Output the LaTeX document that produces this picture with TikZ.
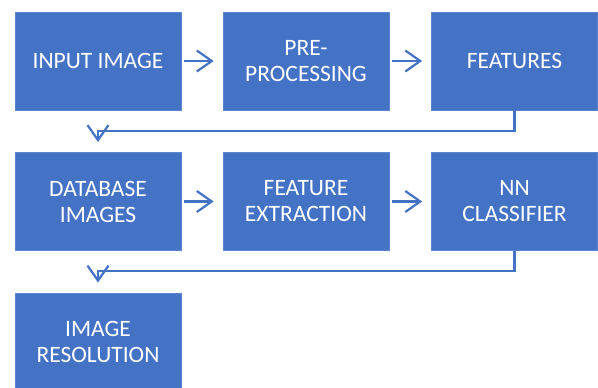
\documentclass[tikz,border=0pt]{standalone}
\usepackage{fontspec}
\setmainfont{Carlito}
\usetikzlibrary{arrows.meta}
\definecolor{boxblue}{HTML}{4472C4}
\definecolor{edgeblue}{HTML}{5B86CF}
\begin{document}
\begin{tikzpicture}[x=1pt,y=-1pt,
  blk/.style={fill=boxblue,draw=edgeblue,line width=0.6pt,minimum width=166pt,minimum height=98pt,
    text=white,align=center,inner sep=0pt,font=\fontsize{23.5}{26}\selectfont},
  conn/.style={draw=boxblue,line width=2.2pt,-{Straight Barb[length=15pt,width=21pt,line width=2.2pt]}}]
\useasboundingbox (0,0) rectangle (598,388);
\node[blk] (a) at (98,61) {INPUT IMAGE};
\node[blk] (b) at (306,61) {PRE-\\PROCESSING};
\node[blk] (c) at (514.5,61) {FEATURES};
\node[blk] (d) at (98,201.5) {DATABASE\\IMAGES};
\node[blk] (e) at (306,201.5) {FEATURE\\EXTRACTION};
\node[blk] (f) at (514.5,201.5) {NN\\CLASSIFIER};
\node[blk] (g) at (98,342) {IMAGE\\RESOLUTION};
\coordinate (t1) at (98,142);
\coordinate (t2) at (98,282.5);
\draw[conn,shorten <=3pt,shorten >=9pt] (a) -- (b);
\draw[conn,shorten <=3pt,shorten >=9pt] (b) -- (c);
\draw[conn,shorten <=3pt,shorten >=9pt] (d) -- (e);
\draw[conn,shorten <=3pt,shorten >=9pt] (e) -- (f);
\draw[conn] (c.south) -- ++(0,21) -| (t1);
\draw[conn] (f.south) -- ++(0,20.5) -| (t2);
\end{tikzpicture}
\end{document}
